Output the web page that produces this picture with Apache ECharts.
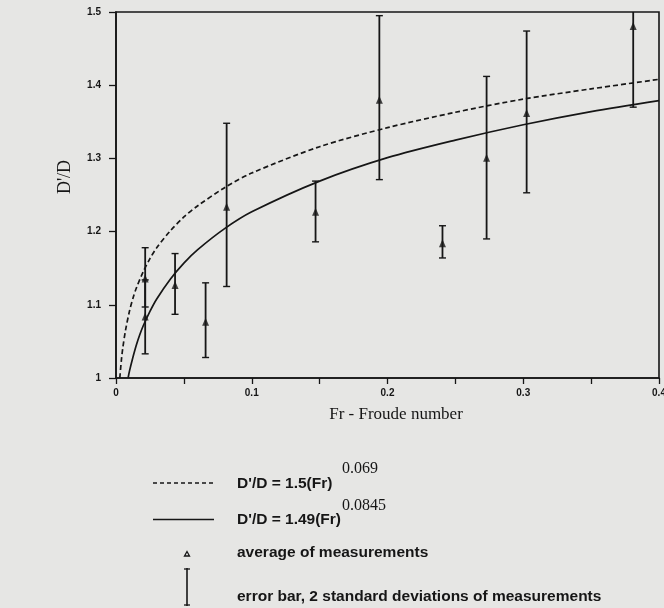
<!DOCTYPE html>
<html>
<head>
<meta charset="utf-8">
<title>D'/D vs Froude number</title>
<script src="https://cdn.jsdelivr.net/npm/echarts@6/dist/echarts.min.js"></script>
<style>
  html, body { margin: 0; padding: 0; background: #e6e6e4; }
  #chart { width: 664px; height: 608px; }
</style>
</head>
<body>
<div id="chart"></div>
<script>
// measured points (Fr, average, 2 std dev range)
const frPoints = [0.0215, 0.0215, 0.0435, 0.066, 0.0815, 0.147, 0.194, 0.2405, 0.273, 0.3025, 0.381];
const avgValues = [1.136, 1.084, 1.127, 1.077, 1.234, 1.227, 1.380, 1.184, 1.301, 1.362, 1.481];
const lowValues = [1.097, 1.033, 1.087, 1.028, 1.125, 1.186, 1.271, 1.164, 1.190, 1.253, 1.370];
const highValues = [1.178, 1.134, 1.170, 1.130, 1.348, 1.269, 1.495, 1.208, 1.412, 1.474, 1.590];

// fitted curves
const dashFr = [0.0028, 0.004, 0.005, 0.007, 0.01, 0.0125, 0.015, 0.02, 0.025, 0.03, 0.04, 0.05, 0.06, 0.08, 0.1, 0.15, 0.2, 0.25, 0.3, 0.35, 0.4];
const dashVal = [1.000, 1.025, 1.041, 1.065, 1.092, 1.109, 1.123, 1.145, 1.163, 1.178, 1.201, 1.220, 1.235, 1.260, 1.280, 1.316, 1.342, 1.363, 1.381, 1.395, 1.408];
const solidFr = [0.0089, 0.01, 0.012, 0.015, 0.0175, 0.02, 0.025, 0.03, 0.04, 0.05, 0.06, 0.08, 0.1, 0.15, 0.2, 0.25, 0.3, 0.35, 0.4];
const solidVal = [1.000, 1.010, 1.025, 1.045, 1.059, 1.071, 1.091, 1.108, 1.135, 1.157, 1.175, 1.204, 1.227, 1.269, 1.301, 1.325, 1.346, 1.364, 1.379];

const xTickLabels = ['0', '0.1', '0.2', '0.3', '0.4'];

const ink = '#161616';

var myChart = echarts.init(document.getElementById('chart'));

const avgData = frPoints.map((f, i) => [f, avgValues[i]]);
const barData = frPoints.map((f, i) => [f, lowValues[i], highValues[i]]);
const dashData = dashFr.map((f, i) => [f, dashVal[i]]);
const solidData = solidFr.map((f, i) => [f, solidVal[i]]);

function renderErrorBar(params, api) {
  const lo = api.coord([api.value(0), api.value(1)]);
  const hi = api.coord([api.value(0), api.value(2)]);
  const top = params.coordSys.y;
  const st = { stroke: ink, lineWidth: 1.8 };
  const kids = [
    { type: 'line', shape: { x1: lo[0], y1: lo[1], x2: lo[0], y2: Math.max(hi[1], top) }, style: st },
    { type: 'line', shape: { x1: lo[0] - 3.5, y1: lo[1], x2: lo[0] + 3.5, y2: lo[1] }, style: { stroke: ink, lineWidth: 1.4 } }
  ];
  if (hi[1] >= top) {
    kids.push({ type: 'line', shape: { x1: hi[0] - 3.5, y1: hi[1], x2: hi[0] + 3.5, y2: hi[1] }, style: { stroke: ink, lineWidth: 1.4 } });
  }
  return { type: 'group', children: kids };
}

const legendX = 237;
const supX = 342;
const legendFont = 'bold 15.5px "Liberation Sans", Arial, sans-serif';
const supFont = '16px "Liberation Serif", "Times New Roman", serif';

var option = {
  backgroundColor: '#e6e6e4',
  animation: false,
  grid: {
    left: 116, right: 5, top: 12, bottom: 230,
    show: true, borderColor: ink, borderWidth: 1.6,
    containLabel: false, outerBoundsMode: 'none'
  },
  xAxis: {
    type: 'value', min: 0, max: 0.4, interval: 0.05,
    axisLine: { show: true, lineStyle: { color: ink, width: 1.6 } },
    axisTick: { show: true, length: 6, lineStyle: { color: ink, width: 1.3 } },
    axisLabel: {
      margin: 10, color: ink, fontFamily: 'Liberation Sans, Arial', fontWeight: 'bold', fontSize: 10,
      formatter: function (v) {
        const k = Math.round(v * 100);
        return k % 10 === 0 ? xTickLabels[k / 10] : '';
      }
    },
    splitLine: { show: false }
  },
  yAxis: {
    type: 'value', min: 1, max: 1.5, interval: 0.1,
    axisLine: { show: true, lineStyle: { color: ink, width: 1.6 } },
    axisTick: { show: true, length: 7, lineStyle: { color: ink, width: 1.3 } },
    axisLabel: { margin: 15, color: ink, fontFamily: 'Liberation Sans, Arial', fontWeight: 'bold', fontSize: 10 },
    splitLine: { show: false }
  },
  series: [
    {
      type: 'line', data: dashData, smooth: 0.3, showSymbol: false,
      lineStyle: { color: ink, width: 1.7, type: [5, 3] }
    },
    {
      type: 'line', data: solidData, smooth: 0.3, showSymbol: false,
      lineStyle: { color: ink, width: 1.7 }
    },
    {
      type: 'custom', data: barData, renderItem: renderErrorBar,
      encode: { x: 0, y: [1, 2] }
    },
    {
      type: 'scatter', data: avgData, symbol: 'triangle', symbolSize: [7, 8],
      itemStyle: { color: ink }
    }
  ],
  graphic: [
    // axis titles
    {
      type: 'text', x: 65, y: 177, rotation: Math.PI / 2,
      style: { text: "D'/D", font: '18px "Liberation Serif", "Times New Roman", serif', fill: ink, align: 'center', verticalAlign: 'middle' }
    },
    {
      type: 'text', x: 396, y: 415,
      style: { text: 'Fr - Froude number', font: '17px "Liberation Serif", "Times New Roman", serif', fill: ink, align: 'center', verticalAlign: 'middle' }
    },
    // legend
    { type: 'line', shape: { x1: 153, y1: 483, x2: 214, y2: 483 }, style: { stroke: ink, lineWidth: 1.4, lineDash: [4, 3] } },
    { type: 'text', x: legendX, y: 484, style: { text: "D'/D = 1.5(Fr)", font: legendFont, fill: ink, verticalAlign: 'middle' } },
    { type: 'text', x: supX, y: 469, style: { text: '0.069', font: supFont, fill: ink, verticalAlign: 'middle' } },
    { type: 'line', shape: { x1: 153, y1: 519.5, x2: 214, y2: 519.5 }, style: { stroke: ink, lineWidth: 1.4 } },
    { type: 'text', x: legendX, y: 520, style: { text: "D'/D = 1.49(Fr)", font: legendFont, fill: ink, verticalAlign: 'middle' } },
    { type: 'text', x: supX, y: 506, style: { text: '0.0845', font: supFont, fill: ink, verticalAlign: 'middle' } },
    { type: 'polygon', shape: { points: [[187, 551.5], [184.5, 556], [189.5, 556]] }, style: { fill: 'none', stroke: ink, lineWidth: 1.3 } },
    { type: 'text', x: legendX, y: 553, style: { text: 'average of measurements', font: legendFont, fill: ink, verticalAlign: 'middle' } },
    { type: 'line', shape: { x1: 187, y1: 568, x2: 187, y2: 606 }, style: { stroke: ink, lineWidth: 1.6 } },
    { type: 'line', shape: { x1: 184, y1: 569, x2: 190, y2: 569 }, style: { stroke: ink, lineWidth: 1.3 } },
    { type: 'line', shape: { x1: 184, y1: 605, x2: 190, y2: 605 }, style: { stroke: ink, lineWidth: 1.3 } },
    { type: 'text', x: legendX, y: 597, style: { text: 'error bar, 2 standard deviations of measurements', font: legendFont, fill: ink, verticalAlign: 'middle' } }
  ]
};

myChart.setOption(option);
</script>
</body>
</html>
